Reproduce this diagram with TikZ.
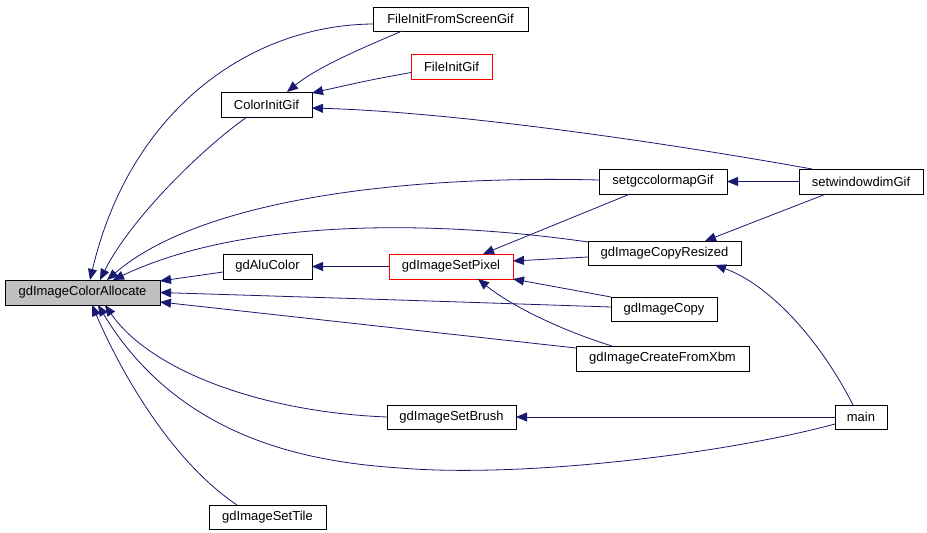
\documentclass[tikz,border=0pt]{standalone}
\usepackage{fontspec}
\setmainfont{Liberation Sans}
\usetikzlibrary{arrows.meta}
\definecolor{navyc}{RGB}{25,25,112}
\definecolor{grayfill}{RGB}{191,191,191}
\begin{document}
\begin{tikzpicture}[x=1pt,y=-1pt,
  box/.style={draw=black, line width=0.9pt, rectangle, inner sep=0pt, outer sep=0pt,
    font=\fontsize{13}{15}\selectfont, text=black},
  redbox/.style={box, draw=red},
  arr/.style={draw=navyc, line width=0.8pt, -{Triangle[length=11pt,width=9pt]}, fill=none}]
\useasboundingbox[fill=white] (0,0) rectangle (927,533);

\node[box, fill=grayfill, minimum width=155pt, minimum height=25pt] (alloc) at (82.5,292.5) {gdImageColorAllocate};
\node[box, minimum width=155pt, minimum height=24pt] (fifsg) at (450.5,19) {FileInitFromScreenGif};
\node[redbox, minimum width=81pt, minimum height=25pt] (fig) at (451.5,66.5) {FileInitGif};
\node[box, minimum width=91pt, minimum height=25pt] (cig) at (266.5,104.5) {ColorInitGif};
\node[box, minimum width=128pt, minimum height=25pt] (setgc) at (663,181.5) {setgccolormapGif};
\node[box, minimum width=124pt, minimum height=25pt] (setwin) at (861,181.5) {setwindowdimGif};
\node[box, minimum width=153pt, minimum height=24pt] (cr) at (664.5,253) {gdImageCopyResized};
\node[box, minimum width=89pt, minimum height=25pt] (alu) at (267.5,266.5) {gdAluColor};
\node[redbox, minimum width=124pt, minimum height=25pt] (sp) at (451,266.5) {gdImageSetPixel};
\node[box, minimum width=106pt, minimum height=24pt] (copy) at (664,309) {gdImageCopy};
\node[box, minimum width=173pt, minimum height=25pt] (xbm) at (662.5,358.5) {gdImageCreateFromXbm};
\node[box, minimum width=129pt, minimum height=24pt] (brush) at (451.5,417) {gdImageSetBrush};
\node[box, minimum width=52pt, minimum height=24pt] (main) at (861,417) {main};
\node[box, minimum width=117pt, minimum height=24pt] (tile) at (267.5,517) {gdImageSetTile};

% edges into gdImageColorAllocate (top)
\draw[arr] ([yshift=-5pt]fifsg.west) .. controls (250,25) and (130,110) .. ([xshift=85pt]alloc.north west);
\draw[arr] ([xshift=26pt]cig.south west) .. controls (200,150) and (130,220) .. ([xshift=95pt]alloc.north west);
\draw[arr] ([yshift=1.5pt]setgc.west) .. controls (400,175) and (200,200) .. ([xshift=102pt]alloc.north west);
\draw[arr] ([yshift=-1pt]cr.north west) .. controls (450,222) and (250,215) .. ([xshift=108pt]alloc.north west);
% right side
\draw[arr] ([yshift=-5.5pt]alu.west) -- ([yshift=-1pt]alloc.north east);
\draw[arr] ([yshift=2pt]copy.west) .. controls (400,300) .. (alloc.east);
\draw[arr] ([yshift=-2pt]xbm.north west) -- ([yshift=3pt]alloc.south east);
% bottom
\draw[arr] (brush.west) .. controls (260,412) and (150,370) .. ([xshift=100pt]alloc.south west);
\draw[arr] ([yshift=-7pt]main.west) .. controls (720,455) and (520,478) .. (400,468)
  .. controls (310,462) and (180,440) .. ([xshift=93pt]alloc.south west);
\draw[arr] ([xshift=28pt]tile.north west) .. controls (170,460) and (120,370) .. ([xshift=87pt]alloc.south west);

% ColorInitGif callers
\draw[arr] ([xshift=29pt]fifsg.south west) .. controls (370,45) and (320,65) .. ([xshift=66pt]cig.north west);
\draw[arr] ([yshift=-6pt]fig.west) .. controls (370,80) .. ([yshift=-1pt]cig.north east);
\draw[arr] ([xshift=13pt]setwin.north west) .. controls (650,140) and (450,112) .. ([yshift=-3.5pt]cig.east);

% others
\draw[arr] (setwin.west) -- (setgc.east);
\draw[arr] ([xshift=31pt]setgc.south west) -- ([xshift=94pt]sp.north west);
\draw[arr] ([xshift=27pt]setwin.south west) -- ([xshift=117pt]cr.north west);
\draw[arr] (sp.west) -- (alu.east);
\draw[arr] ([yshift=-4pt]cr.west) -- ([yshift=5.5pt]sp.east);
\draw[arr] ([xshift=18pt]main.north west) .. controls (820,340) and (770,285) .. ([xshift=127pt]cr.south west);
\draw[arr] (copy.north west) -- (sp.south east);
\draw[arr] ([xshift=36pt]xbm.north west) .. controls (560,330) and (510,305) .. ([xshift=89pt]sp.south west);
\draw[arr] (main.west) -- (brush.east);
\end{tikzpicture}
\end{document}
